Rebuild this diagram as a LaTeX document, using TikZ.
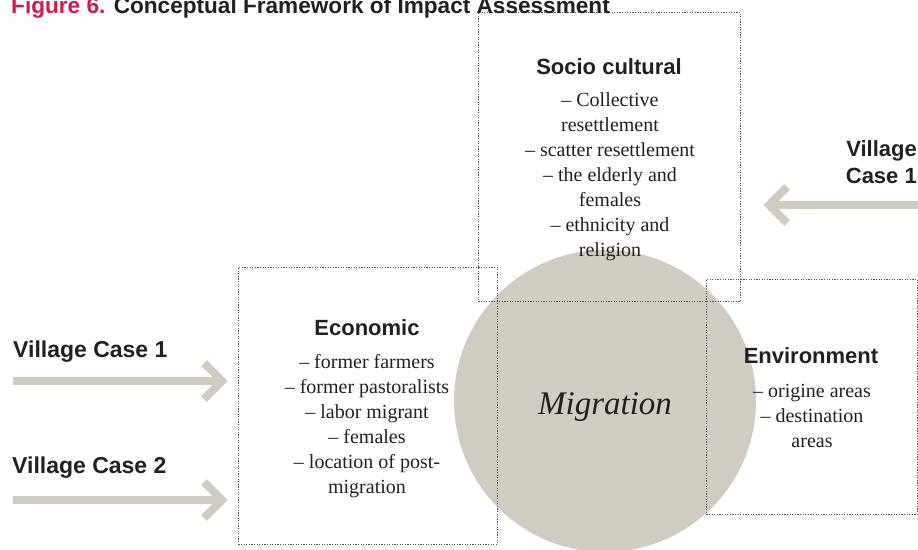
\documentclass[tikz,border=0pt]{standalone}
\usepackage{fontspec}
\setmainfont{Liberation Serif}
\newfontfamily\headsans{Liberation Sans}
\definecolor{ink}{HTML}{231F20}
\definecolor{figred}{HTML}{D4184C}
\definecolor{sand}{HTML}{D0CCC2}
\definecolor{dotgray}{HTML}{555555}
\begin{document}
\begin{tikzpicture}[x=1pt,y=-1pt,
  framebox/.style={draw=dotgray, line width=0.8pt, dash pattern=on 1.2pt off 1.4pt,
    rectangle, inner sep=0pt, anchor=north west},
  flowarrow/.style={draw=sand, line width=8pt, line join=miter, line cap=butt},
  heading/.style={font=\headsans\bfseries\fontsize{22}{27}\selectfont, text=ink,
    inner sep=0pt, anchor=base},
  bodytext/.style={font=\fontsize{20}{25}\selectfont, text=ink, align=center,
    inner sep=0pt, anchor=base}]
\useasboundingbox (0,0) rectangle (918,549);

% central circle
\node[circle, fill=sand, minimum size=302pt, inner sep=0pt] (migr) at (605,401) {};

% dotted frames of the three dimensions
\node[framebox, minimum width=262pt, minimum height=289pt] (socio) at (478,12) {};
\node[framebox, minimum width=259pt, minimum height=277pt] (econ) at (238,267) {};
\node[framebox, minimum width=211pt, minimum height=235pt] (env) at (706,279) {};

% title (baseline near the top edge)
\node[font=\headsans\bfseries\fontsize{22.6}{27}\selectfont, text=ink, inner sep=0pt,
  anchor=base west] (title) at (11,13.3)
  {\textcolor{figred}{Figure 6.} Conceptual Framework of Impact Assessment};

% centre label
\node[font=\itshape\fontsize{33}{38}\selectfont, text=ink, inner sep=0pt, anchor=base]
  (migrtext) at (605,414) {Migration};

% socio cultural (multi-line text sits on its last baseline)
\node[heading] (sochead) at (609,74) {Socio cultural};
\node[bodytext] (socbody) at (610,256) {-- Collective\\resettlement\\-- scatter resettlement\\-- the elderly and\\females\\-- ethnicity and\\religion};

% economic
\node[heading] (ecohead) at (367,335) {Economic};
\node[bodytext] (ecobody) at (367,493) {-- former farmers\\-- former pastoralists\\-- labor migrant\\-- females\\-- location of post-\\migration};

% environment
\node[heading] (envhead) at (811,363) {Environment};
\node[bodytext] (envbody) at (812,447) {-- origine areas\\-- destination\\areas};

% village case labels
\node[heading, anchor=base west, font=\headsans\bfseries\fontsize{23}{27}\selectfont] (vc1) at (13,357) {Village Case 1};
\node[heading, anchor=base west, font=\headsans\bfseries\fontsize{23}{27}\selectfont] (vc2) at (12,473) {Village Case 2};
\node[heading, anchor=base east, align=right] (vc1r) at (917,183) {Village\\Case 1};

% arrows
\coordinate (s1) at (13,381);  \coordinate (t1) at (222,381);
\coordinate (s2) at (13,500);  \coordinate (t2) at (222,500);
\coordinate (s3) at (930,205); \coordinate (t3) at (769,205);

\draw[flowarrow] (s1) -- (t1);
\draw[flowarrow] ([shift={(-18,-18)}]t1) -- (t1) -- ([shift={(-18,18)}]t1);
\draw[flowarrow] (s2) -- (t2);
\draw[flowarrow] ([shift={(-18,-18)}]t2) -- (t2) -- ([shift={(-18,18)}]t2);
\draw[flowarrow] (s3) -- (t3);
\draw[flowarrow] ([shift={(18,-18)}]t3) -- (t3) -- ([shift={(18,18)}]t3);
\end{tikzpicture}
\end{document}
